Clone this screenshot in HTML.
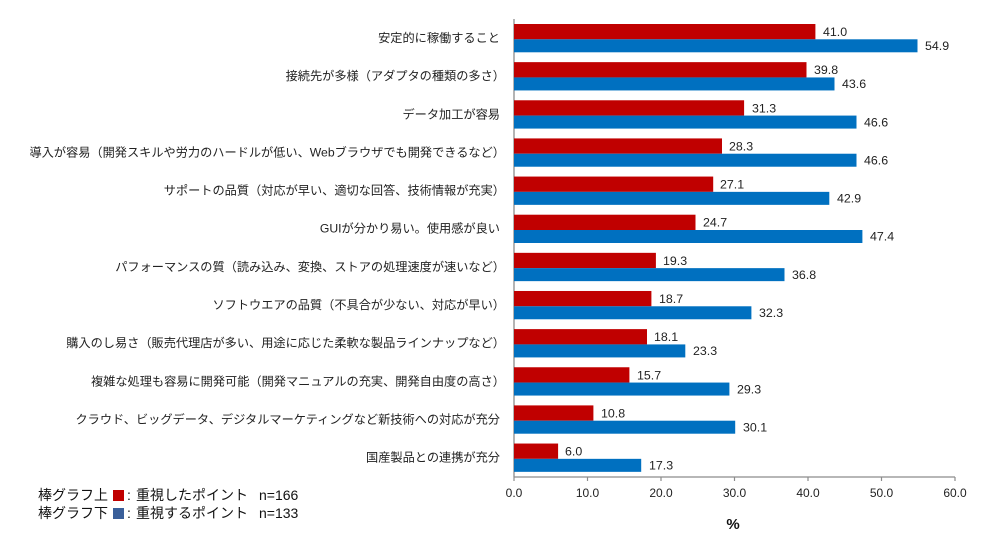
<!DOCTYPE html>
<html><head><meta charset="utf-8"><style>
html,body{margin:0;padding:0;background:#fff;}
svg{display:block;}
.cat{font-family:"Liberation Sans","Noto Sans CJK JP",sans-serif;font-size:12.2px;fill:#222;}
.val{font-family:"Liberation Sans",sans-serif;font-size:12.4px;fill:#222;}
.tick{font-family:"Liberation Sans",sans-serif;font-size:12px;fill:#222;}
.leg{font-family:"Liberation Sans","Noto Sans CJK JP",sans-serif;font-size:14px;fill:#111;}
</style></head><body>
<svg width="1000" height="546" viewBox="0 0 1000 546" xmlns="http://www.w3.org/2000/svg">
<rect width="1000" height="546" fill="#fff"/>
<!-- axes -->
<line x1="514" y1="19" x2="514" y2="477" stroke="#8c8c8c" stroke-width="1.3"/>
<line x1="514" y1="477" x2="955" y2="477" stroke="#8c8c8c" stroke-width="1.3"/>
<g stroke="#8c8c8c" stroke-width="1.2">
<line x1="514" y1="477" x2="514" y2="481"/>
<line x1="587.5" y1="477" x2="587.5" y2="481"/>
<line x1="661" y1="477" x2="661" y2="481"/>
<line x1="734.5" y1="477" x2="734.5" y2="481"/>
<line x1="808" y1="477" x2="808" y2="481"/>
<line x1="881.5" y1="477" x2="881.5" y2="481"/>
<line x1="955" y1="477" x2="955" y2="481"/>
</g>
<g class="tick" text-anchor="middle">
<text x="514" y="497">0.0</text>
<text x="587.5" y="497">10.0</text>
<text x="661" y="497">20.0</text>
<text x="734.5" y="497">30.0</text>
<text x="808" y="497">40.0</text>
<text x="881.5" y="497">50.0</text>
<text x="955" y="497">60.0</text>
</g>
<text x="733" y="529" text-anchor="middle" font-family="Liberation Sans,sans-serif" font-size="15" font-weight="bold" fill="#111">%</text>

<!-- groups -->
<g>
<rect x="514" y="24" width="301.4" height="15.3" fill="#C00000"/>
<rect x="514" y="39.3" width="403.5" height="13" fill="#0070C0"/>
<text class="val" x="823" y="36">41.0</text>
<text class="val" x="925" y="50">54.9</text>
<text class="cat" x="500" y="42" text-anchor="end">安定的に稼働すること</text>
</g>
<g transform="translate(0,38.14)">
<rect x="514" y="24" width="292.5" height="15.3" fill="#C00000"/>
<rect x="514" y="39.3" width="320.5" height="13" fill="#0070C0"/>
<text class="val" x="814" y="36">39.8</text>
<text class="val" x="842" y="50">43.6</text>
<text class="cat" x="505" y="42" text-anchor="end">接続先が多様（アダプタの種類の多さ）</text>
</g>
<g transform="translate(0,76.28)">
<rect x="514" y="24" width="230.1" height="15.3" fill="#C00000"/>
<rect x="514" y="39.3" width="342.5" height="13" fill="#0070C0"/>
<text class="val" x="752" y="36">31.3</text>
<text class="val" x="864" y="50">46.6</text>
<text class="cat" x="500" y="42" text-anchor="end">データ加工が容易</text>
</g>
<g transform="translate(0,114.42)">
<rect x="514" y="24" width="208" height="15.3" fill="#C00000"/>
<rect x="514" y="39.3" width="342.5" height="13" fill="#0070C0"/>
<text class="val" x="729" y="36">28.3</text>
<text class="val" x="864" y="50">46.6</text>
<text class="cat" x="505" y="42" text-anchor="end">導入が容易（開発スキルや労力のハードルが低い、Webブラウザでも開発できるなど）</text>
</g>
<g transform="translate(0,152.56)">
<rect x="514" y="24" width="199.2" height="15.3" fill="#C00000"/>
<rect x="514" y="39.3" width="315.3" height="13" fill="#0070C0"/>
<text class="val" x="720" y="36">27.1</text>
<text class="val" x="837" y="50">42.9</text>
<text class="cat" x="505" y="42" text-anchor="end">サポートの品質（対応が早い、適切な回答、技術情報が充実）</text>
</g>
<g transform="translate(0,190.7)">
<rect x="514" y="24" width="181.5" height="15.3" fill="#C00000"/>
<rect x="514" y="39.3" width="348.4" height="13" fill="#0070C0"/>
<text class="val" x="703" y="36">24.7</text>
<text class="val" x="870" y="50">47.4</text>
<text class="cat" x="500" y="42" text-anchor="end">GUIが分かり易い。使用感が良い</text>
</g>
<g transform="translate(0,228.84)">
<rect x="514" y="24" width="141.9" height="15.3" fill="#C00000"/>
<rect x="514" y="39.3" width="270.5" height="13" fill="#0070C0"/>
<text class="val" x="663" y="36">19.3</text>
<text class="val" x="792" y="50">36.8</text>
<text class="cat" x="505" y="42" text-anchor="end">パフォーマンスの質（読み込み、変換、ストアの処理速度が速いなど）</text>
</g>
<g transform="translate(0,266.98)">
<rect x="514" y="24" width="137.4" height="15.3" fill="#C00000"/>
<rect x="514" y="39.3" width="237.4" height="13" fill="#0070C0"/>
<text class="val" x="659" y="36">18.7</text>
<text class="val" x="759" y="50">32.3</text>
<text class="cat" x="505" y="42" text-anchor="end">ソフトウエアの品質（不具合が少ない、対応が早い）</text>
</g>
<g transform="translate(0,305.12)">
<rect x="514" y="24" width="133" height="15.3" fill="#C00000"/>
<rect x="514" y="39.3" width="171.3" height="13" fill="#0070C0"/>
<text class="val" x="654" y="36">18.1</text>
<text class="val" x="693" y="50">23.3</text>
<text class="cat" x="505" y="42" text-anchor="end">購入のし易さ（販売代理店が多い、用途に応じた柔軟な製品ラインナップなど）</text>
</g>
<g transform="translate(0,343.26)">
<rect x="514" y="24" width="115.4" height="15.3" fill="#C00000"/>
<rect x="514" y="39.3" width="215.4" height="13" fill="#0070C0"/>
<text class="val" x="637" y="36">15.7</text>
<text class="val" x="737" y="50">29.3</text>
<text class="cat" x="505" y="42" text-anchor="end">複雑な処理も容易に開発可能（開発マニュアルの充実、開発自由度の高さ）</text>
</g>
<g transform="translate(0,381.4)">
<rect x="514" y="24" width="79.4" height="15.3" fill="#C00000"/>
<rect x="514" y="39.3" width="221.2" height="13" fill="#0070C0"/>
<text class="val" x="601" y="36">10.8</text>
<text class="val" x="743" y="50">30.1</text>
<text class="cat" x="500" y="42" text-anchor="end">クラウド、ビッグデータ、デジタルマーケティングなど新技術への対応が充分</text>
</g>
<g transform="translate(0,419.54)">
<rect x="514" y="24" width="44.1" height="15.3" fill="#C00000"/>
<rect x="514" y="39.3" width="127.2" height="13" fill="#0070C0"/>
<text class="val" x="565" y="36">6.0</text>
<text class="val" x="649" y="50">17.3</text>
<text class="cat" x="500" y="42" text-anchor="end">国産製品との連携が充分</text>
</g>

<!-- legend -->
<text class="leg" x="38" y="500">棒グラフ上</text>
<rect x="113" y="490" width="11" height="11" fill="#C00000"/>
<text class="leg" x="127" y="500">:</text>
<text class="leg" x="136" y="500">重視したポイント</text>
<text class="leg" x="259" y="500">n=166</text>
<text class="leg" x="38" y="518">棒グラフ下</text>
<rect x="113" y="508" width="11" height="11" fill="#3A5F9A"/>
<text class="leg" x="127" y="518">:</text>
<text class="leg" x="136" y="518">重視するポイント</text>
<text class="leg" x="259" y="518">n=133</text>
</svg>
</body></html>
